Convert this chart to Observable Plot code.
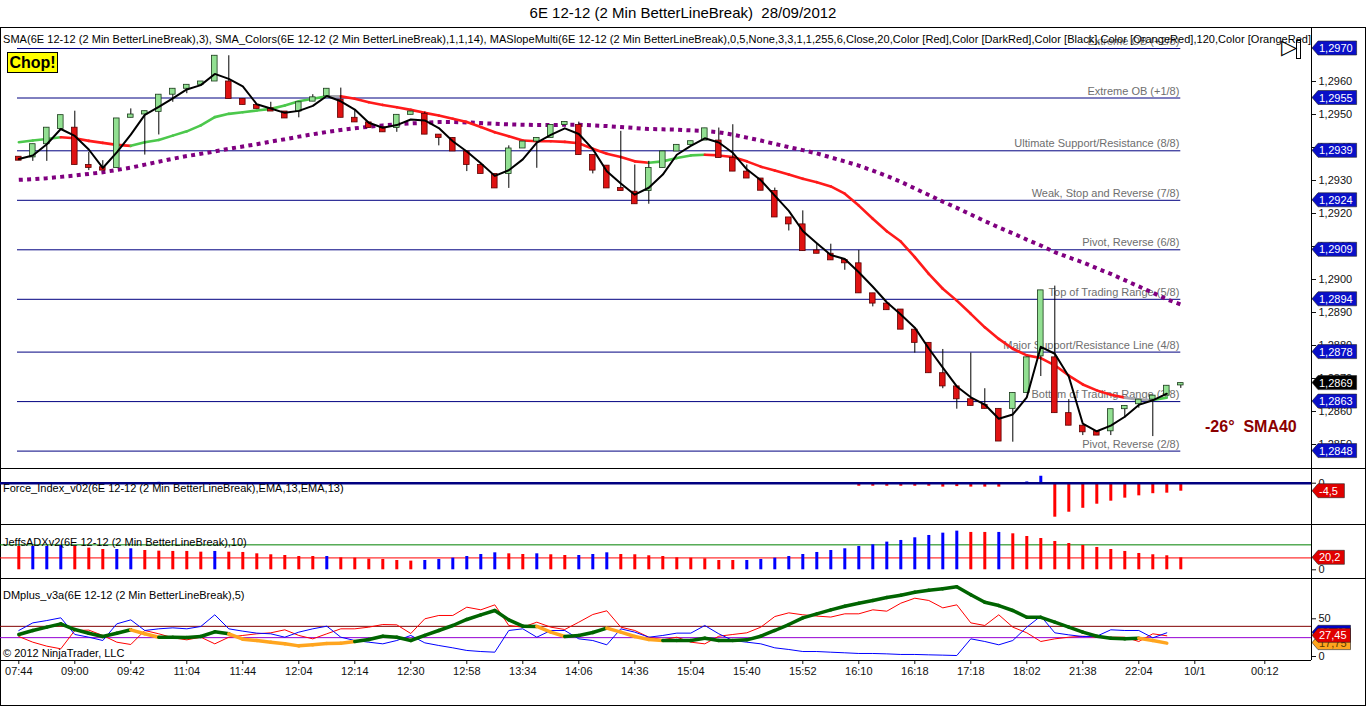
<!DOCTYPE html>
<html><head><meta charset="utf-8">
<script src="https://cdn.jsdelivr.net/npm/d3@7"></script>
<script src="https://cdn.jsdelivr.net/npm/@observablehq/plot@0.6"></script>
<style>
body{margin:0;background:#fff;font-family:"Liberation Sans",Arial,sans-serif;}
#page{position:relative;width:1366px;height:706px;overflow:hidden;background:#fff;}
.panel{position:absolute;left:0;width:1366px;}
.txt{position:absolute;font-size:11px;line-height:13px;white-space:pre;color:#000;z-index:6;}
.sep{position:absolute;left:0;width:1366px;height:1px;background:#000;z-index:5;}
</style></head><body><div id="page">
<div class="txt" style="top:4px;left:0;width:1366px;text-align:center;font-size:15px;line-height:18px;">6E 12-12 (2 Min BetterLineBreak)  28/09/2012</div>
<div style="position:absolute;top:27px;left:0;width:1366px;height:679px;border:1px solid #000;box-sizing:border-box;"></div>
<div class="panel" id="p-price" style="top:27px"></div>
<div class="panel" id="p-force" style="top:468px"></div>
<div class="panel" id="p-adx" style="top:524px"></div>
<div class="panel" id="p-dm" style="top:578px"></div>
<div class="sep" style="top:468px"></div>
<div class="sep" style="top:524px"></div>
<div class="sep" style="top:578px"></div>
<div class="txt" style="top:33px;left:3px;width:1308px;overflow:hidden;letter-spacing:0.04px;">SMA(6E 12-12 (2 Min BetterLineBreak),3), SMA_Colors(6E 12-12 (2 Min BetterLineBreak),1,1,14), MASlopeMulti(6E 12-12 (2 Min BetterLineBreak),0,5,None,3,3,1,1,255,6,Close,20,Color [Red],Color [DarkRed],Color [Black],Color [OrangeRed],120,Color [OrangeRed]</div>
<div class="txt" style="top:52px;left:7px;width:49px;height:19px;background:#ffff00;border:1px solid #000;font-weight:bold;font-size:16px;line-height:19px;text-align:center;">Chop!</div>
<div class="txt" style="top:417px;left:1205px;font-weight:bold;font-size:16px;line-height:20px;color:#8b0000;">-26°  SMA40</div>
<div class="txt" style="top:35px;left:1281px;font-size:21px;line-height:24px;font-family:'DejaVu Sans';">▷</div>
<div style="position:absolute;top:40px;left:1296px;width:3px;height:17px;border:1px solid #000;z-index:6;"></div>
<div class="txt" style="top:482px;left:3px;">Force_Index_v02(6E 12-12 (2 Min BetterLineBreak),EMA,13,EMA,13)</div>
<div class="txt" style="top:536px;left:3px;">JeffsADXv2(6E 12-12 (2 Min BetterLineBreak),10)</div>
<div class="txt" style="top:589px;left:3px;">DMplus_v3a(6E 12-12 (2 Min BetterLineBreak),5)</div>
<div class="txt" style="top:647px;left:3px;">© 2012 NinjaTrader, LLC</div>
</div>
<script>
// ---------- data ----------
const openP  = [1.29372,1.29370,1.29410,1.29456,1.29460,1.29347,1.29340,1.29338,1.29490,1.29500,
  1.29508,1.29560,1.29578,1.29590,1.29600,1.29600,1.29547,1.29529,1.29519,1.29509,
  1.29509,1.29539,1.29555,1.29545,1.29490,1.29476,1.29461,1.29459,1.29499,1.29502,
  1.29439,1.29429,1.29388,1.29347,1.29320,1.29320,1.29397,1.29418,1.29429,1.29468,
  1.29468,1.29377,1.29345,1.29277,1.29266,1.29268,1.29338,1.29388,1.29408,1.29421,
  1.29421,1.29368,1.29327,1.29306,1.29268,1.29188,1.29167,1.29088,1.29078,1.29059,
  1.29049,1.28958,1.28927,1.28909,1.28848,1.28808,1.28716,1.28676,1.28637,1.28620,
  1.28608,1.28608,1.28656,1.28767,1.28764,1.28595,1.28557,1.28540,1.28540,1.28607,
  1.28622,1.28636,1.28648,1.28679];
const highP  = [1.29372,1.29410,1.29460,1.29498,1.29510,1.29385,1.29360,1.29488,1.29517,1.29510,
  1.29560,1.29578,1.29590,1.29600,1.29678,1.29678,1.29547,1.29529,1.29537,1.29509,
  1.29537,1.29560,1.29578,1.29580,1.29514,1.29476,1.29461,1.29499,1.29509,1.29507,
  1.29439,1.29429,1.29388,1.29347,1.29320,1.29405,1.29418,1.29429,1.29468,1.29477,
  1.29477,1.29377,1.29345,1.29449,1.29347,1.29358,1.29388,1.29408,1.29419,1.29458,
  1.29459,1.29469,1.29347,1.29306,1.29277,1.29188,1.29208,1.29107,1.29107,1.29059,
  1.29088,1.28958,1.28927,1.28909,1.28848,1.28808,1.28788,1.28676,1.28777,1.28669,
  1.28608,1.28656,1.28764,1.28967,1.28980,1.28636,1.28557,1.28540,1.28607,1.28617,
  1.28636,1.28648,1.28678,1.28686];
const lowP   = [1.29360,1.29358,1.29358,1.29456,1.29347,1.29330,1.29330,1.29338,1.29490,1.29377,
  1.29438,1.29537,1.29563,1.29590,1.29600,1.29547,1.29529,1.29517,1.29509,1.29488,
  1.29490,1.29539,1.29555,1.29490,1.29476,1.29459,1.29446,1.29446,1.29499,1.29439,
  1.29405,1.29388,1.29327,1.29320,1.29276,1.29276,1.29397,1.29337,1.29429,1.29468,
  1.29377,1.29320,1.29276,1.29268,1.29228,1.29228,1.29338,1.29388,1.29408,1.29421,
  1.29368,1.29327,1.29306,1.29269,1.29188,1.29147,1.29086,1.29078,1.29058,1.29028,
  1.28958,1.28917,1.28907,1.28848,1.28777,1.28716,1.28669,1.28607,1.28617,1.28608,
  1.28509,1.28507,1.28656,1.28706,1.28595,1.28557,1.28527,1.28527,1.28527,1.28580,
  1.28610,1.28524,1.28648,1.28670];
const closeP = [1.29360,1.29410,1.29460,1.29498,1.29347,1.29338,1.29330,1.29488,1.29500,1.29510,
  1.29560,1.29578,1.29590,1.29600,1.29678,1.29547,1.29529,1.29517,1.29509,1.29488,
  1.29537,1.29552,1.29578,1.29490,1.29476,1.29459,1.29446,1.29499,1.29509,1.29439,
  1.29429,1.29388,1.29347,1.29320,1.29276,1.29397,1.29418,1.29429,1.29468,1.29477,
  1.29377,1.29330,1.29276,1.29268,1.29228,1.29338,1.29388,1.29408,1.29419,1.29458,
  1.29368,1.29327,1.29306,1.29269,1.29188,1.29167,1.29086,1.29078,1.29058,1.29049,
  1.28958,1.28927,1.28907,1.28848,1.28808,1.28716,1.28676,1.28637,1.28617,1.28608,
  1.28509,1.28656,1.28764,1.28967,1.28595,1.28557,1.28537,1.28527,1.28607,1.28617,
  1.28636,1.28648,1.28678,1.28686];
const sma3 = [1.29365,1.29376,1.29410,1.29456,1.29435,1.29394,1.29338,1.29385,1.29439,1.29499,
  1.29523,1.29549,1.29576,1.29589,1.29623,1.29608,1.29585,1.29531,1.29518,1.29505,
  1.29511,1.29526,1.29556,1.29540,1.29515,1.29475,1.29460,1.29468,1.29485,1.29482,
  1.29459,1.29419,1.29388,1.29352,1.29314,1.29331,1.29364,1.29415,1.29438,1.29458,
  1.29441,1.29395,1.29328,1.29291,1.29257,1.29278,1.29318,1.29378,1.29405,1.29428,
  1.29415,1.29384,1.29334,1.29301,1.29254,1.29208,1.29147,1.29110,1.29074,1.29062,
  1.29022,1.28978,1.28931,1.28894,1.28854,1.28791,1.28733,1.28676,1.28643,1.28621,
  1.28578,1.28591,1.28643,1.28796,1.28775,1.28706,1.28563,1.28540,1.28557,1.28584,
  1.28620,1.28634,1.28654];
const smaColors = [1.29416,1.29421,1.29426,1.29431,1.29428,1.29420,1.29414,1.29408,1.29405,1.29416,
  1.29423,1.29436,1.29449,1.29467,1.29492,1.29502,1.29507,1.29512,1.29517,1.29527,
  1.29540,1.29548,1.29555,1.29555,1.29548,1.29537,1.29529,1.29522,1.29514,1.29505,
  1.29497,1.29487,1.29477,1.29462,1.29446,1.29434,1.29421,1.29419,1.29419,1.29417,
  1.29413,1.29396,1.29381,1.29371,1.29358,1.29354,1.29358,1.29368,1.29376,1.29378,
  1.29376,1.29371,1.29358,1.29342,1.29330,1.29318,1.29305,1.29295,1.29282,1.29260,
  1.29224,1.29184,1.29146,1.29115,1.29068,1.29017,1.28972,1.28936,1.28896,1.28855,
  1.28820,1.28790,1.28770,1.28762,1.28740,1.28709,1.28682,1.28664,1.28651,1.28642,
  1.28636,1.28635,1.28642];
const smaTrend = ("gggg" + "rrrrr" + "gggggggggggggg" + "n" + "rrrrrrrrrrrrrrrrrrrrrr" + "gggg" +
  "rrrrrrrrrrrrrrrrrrrrrrrrrrrrrr" + "nn" + "g").split("");
const sma40 = [1.29302,1.29304,1.29307,1.29311,1.29315,1.29320,1.29325,1.29332,1.29339,1.29348,
  1.29357,1.29366,1.29374,1.29381,1.29388,1.29396,1.29403,1.29410,1.29418,1.29425,
  1.29433,1.29440,1.29447,1.29453,1.29458,1.29463,1.29467,1.29470,1.29473,1.29475,
  1.29477,1.29477,1.29476,1.29474,1.29472,1.29470,1.29469,1.29468,1.29468,1.29469,
  1.29469,1.29467,1.29465,1.29462,1.29459,1.29456,1.29455,1.29454,1.29452,1.29450,
  1.29446,1.29439,1.29430,1.29421,1.29411,1.29401,1.29392,1.29382,1.29370,1.29358,
  1.29345,1.29330,1.29314,1.29296,1.29276,1.29256,1.29236,1.29217,1.29197,1.29177,
  1.29158,1.29140,1.29121,1.29103,1.29083,1.29067,1.29052,1.29034,1.29017,1.28998,
  1.28979,1.28960,1.28940,1.28924];
const murreyLevels = [1.2970,1.2955,1.2939,1.2924,1.2909,1.2894,1.2878,1.2863,1.2848];
const murreyLabels = ["Extreme OB (+2/8)","Extreme OB (+1/8)","Ultimate Support/Resistance (8/8)",
  "Weak, Stop and Reverse (7/8)","Pivot, Reverse (6/8)","Top of Trading Range (5/8)",
  "Major Support/Resistance Line (4/8)","Bottom of Trading Range (3/8)","Pivot, Reverse (2/8)"];
const priceTicks = [1.2850,1.2860,1.2870,1.2880,1.2890,1.2900,1.2910,1.2920,1.2930,1.2940,1.2950,1.2960];

const forceIndex = [0,0,0,0,0,0,0,0,0,0, 0.5, 0,0,0,0,0,0,0,0,0, 0,0,0,0,0,0,0,0,0,
  -0.3,-0.3,-0.3,-0.3,-0.3,-0.3, 0,0,0,0,0,0,0,0,0, -0.3, 0,0,0,0,0,0,
  -0.7,-0.7,-0.7,-0.7,-0.7,-0.7,-0.7,-0.7,-0.7, -1.7,-1.7,-1.7,-1.7,-1.7,-1.7,
  -2.2,-1.9,-2.2,-2.2,-2.2, 0, 0.7, 3.9,
  -19.1,-16.3,-14.1,-11.8,-10.1,-8.4,-7.1,-5.9,-5.6,-4.5];

const adx = [39.3,39.3,39.3,41,39.3,36.5,34.2,34.2,35.4,32.5, 31.4,30.9,30.9,29.7,30.9,29.7,29.2,26.9,25.3,24.1,
  22.4,22.4,22.4,20.2,19.6,18,17.4,15.7,14.6,15.7, 17.4,19.6,22.4,25.8,28.6,26.9,25.8,26.9,25.3,24.1,
  24.1,25.8,28.6,25.8,25.3,23.6,22.4,20.2,19.6,18.5, 15.7,15.7,15.7,17.4,19.6,22.4,25.8,29.2,32.5,35.4,
  39.3,42.1,46.6,49.4,53.9,57.8,61.7,65.1,62.9,62.9, 62.9,60.6,56.1,52.7,47.7,44.3,41,37.6,34.2,30.9,
  27.5,25.3,23.6,20.2];
const adxDir = ("rbbb" + "rrr" + "bb" + "rrrrr" + "b" + "rrrrrrr" + "b" + "rrrrrr" + "bbbbbb" + "rr" + "b" + "rr" +
  "bbb" + "rrrrrrrrr" + "bbbbbbbbbbbbbbbb" + "rr" + "b" + "rrrrrrrrrrrrr").split("");
const adxLevels = [42, 20];

const dmThick = [29.2,34.5,38.9,43.3,35.8,30.9,26.5,30.9,35.4,30.1, 25.6,25.6,25.2,26.5,32.7,30.1,23,21.2,19,16.8,
  14.1,15.5,17.2,17.7,19.9,22.5,26.9,25.6,21.2,27.9, 34.5,41.1,49.1,55.3,61,48.6,40.2,39.8,32.3,26.5,
  27.9,31.8,37.6,32.3,26.5,22.5,21.2,21.2,21.2,24.3, 21.2,21.2,22.1,26.9,34.5,42.4,51.3,56.6,61.9,66.7,
  70.7,74.3,78.2,81.3,85.3,88,89.8,92.4,81.8,72, 67.6,61,52.1,52,45.5,38.9,32.3,26.9,24.3,23.4,
  24.3,21.2,17.75];
const dmThickState = ("ggggggggg" + "oo" + "ggggg" + "ooooooooo" + "ggggggggggggg" + "oo" + "ggg" + "oooo" +
  "gggggggggggggggggggggggggggggggggg" + "oo").split("");
const dmRed = [26.5,19,13.7,10.2,34.5,35,27.9,19,15.9,34.5, 30.1,24.8,22.1,25.6,16.8,25.6,27.9,30.1,31.4,35.4,
  27.9,23.4,30.1,36.7,36.7,38.9,42.4,42,30.5,50, 54.4,54.4,65.4,61.9,68.5,41.1,38.9,45.5,38.9,35.8,
  45.5,55.7,60.6,38.9,34.5,25.6,22.1,25.6,19,16.8, 26.9,29.2,31.4,38.9,53,57.9,55.3,53.6,52.3,56.6,
  56.6,61.9,60.1,70.7,77.3,74.3,64.5,68.5,44.6,41.1, 55.3,38.9,31.4,19.9,23.4,25.6,26.9,25.6,25.6,25.6,
  19.9,30.1,27.45];
const dmBlue = [34.5,44.6,47.7,51.3,29.2,25.6,21.2,43.3,48.6,34.5, 36.7,38,36.7,39.8,55.3,36.7,33.6,31,30.1,25.6,
  32.3,36.7,40.2,25.6,21.2,19,16.8,21.2,27.9,18.1, 14.6,11.5,8,6.6,5.7,34.5,36.7,25.6,34.5,34.5,
  23.4,21.2,15.5,36.7,32.3,25.6,27.9,31,31,41.1, 30.1,21.2,19,16.8,11.5,9.3,6.6,6.6,5.7,4.9,
  4,4,3.5,2.7,2.7,2.2,1.8,1.3,23.4,19.9, 15.5,21.2,38.9,53.6,31.4,28.7,26.5,26.9,35.4,34.5,
  34.5,24.8,31.4];
const dmLevels = [40, 25];

const xTickBars = [0,4,8,12,16,20,24,28,32,36,40,44,48,52,56,60,64,68,72,76,80,84,89];
const xTickLabels = ["07:44","09:00","09:42","11:04","11:44","12:04","12:14","12:30","12:58","13:34","14:06",
  "14:36","15:04","15:40","15:52","16:10","16:18","17:18","18:02","21:38","22:04","10/1","00:12"];

// ---------- layout ----------
const W = 1366, AXIS_X = 1311, BAR_PX = 14, X0_PX = 18.3;
const xDomain = [-X0_PX / BAR_PX, (AXIS_X - X0_PX) / BAR_PX];
const pxX = px => xDomain[0] + px / BAR_PX;
const comma = (v, d) => v.toFixed(d).replace(".", ",");
const FONT = "'Liberation Sans', Arial, sans-serif";

function tag(v, label, fill, textFill, ypp) {
  const w = 8 + label.length * 6.1, h = 7 * ypp;
  const pts = [{x: pxX(1312), lo: v, hi: v}, {x: pxX(1318), lo: v - h, hi: v + h}, {x: pxX(1312 + w), lo: v - h, hi: v + h}];
  return [
    Plot.area(pts, {x1: "x", y1: "lo", y2: "hi", fill, stroke: "#222", strokeWidth: 0.6}),
    Plot.text([{v, label}], {x: pxX(1318.5), y: "v", text: "label", textAnchor: "start", fill: textFill, fontSize: 11})
  ];
}

function panel(id, h, mb, yDomain, yOpts, xOpts, marks) {
  const svg = Plot.plot({
    width: W, height: h, marginLeft: 0, marginRight: W - AXIS_X, marginTop: 0, marginBottom: mb,
    style: {background: "transparent", fontSize: "11px", fontFamily: FONT, color: "#111", overflow: "visible"},
    x: {domain: xDomain, ...xOpts},
    y: {domain: yDomain, label: null, tickSize: 4, tickPadding: 3, ...yOpts},
    marks: [...marks, Plot.ruleX([xDomain[1]], {stroke: "#000"})]
  });
  document.getElementById(id).appendChild(svg);
}

// ---------- price panel ----------
const PH = 441;
const priceDomain = [1.2960 - 387 / 33000, 1.2960 + 54 / 33000];
const pYpp = (priceDomain[1] - priceDomain[0]) / PH;
const candles = openP.map((o, i) => ({i, o, h: highP[i], l: lowP[i], c: closeP[i]}));
const sma3Data = sma3.map((v, i) => ({i, v}));
const sma40Data = sma40.map((v, i) => ({i, v}));
const smaSeg = d3.range(1, smaColors.length).map(i => ({x1: i - 1, y1: smaColors[i - 1], x2: i, y2: smaColors[i], s: smaTrend[i]}));
const trendColor = {g: "#4cc84c", r: "#ff1a1a", n: "#a8a8b0"};
const murrey = murreyLevels.map((v, k) => ({v, label: murreyLabels[k]}));

panel("p-price", PH, 0, priceDomain,
  {axis: "right", ticks: priceTicks, tickFormat: v => comma(v, 4)}, {axis: null}, [
  Plot.ruleY(murrey, {y: "v", x1: pxX(17), x2: 83, stroke: "#000080", strokeWidth: 1}),
  Plot.text(murrey, {x: 82.9, y: "v", text: "label", textAnchor: "end", dy: -7, fill: "#6e6e6e", fontSize: 11}),
  Plot.line(sma40Data, {x: "i", y: "v", stroke: "#800080", strokeWidth: 4, strokeDasharray: "4,4.3", strokeLinecap: "butt", strokeLinejoin: "miter"}),
  Plot.link(smaSeg, {x1: "x1", y1: "y1", x2: "x2", y2: "y2", stroke: d => trendColor[d.s], strokeWidth: 2.6, strokeLinecap: "round"}),
  Plot.ruleX(candles, {x: "i", y1: "l", y2: "h", stroke: "#000", strokeWidth: 1}),
  Plot.rect(candles, {x1: d => d.i - 0.2, x2: d => d.i + 0.2, y1: "o", y2: "c",
    fill: d => d.c >= d.o ? "#92e092" : "#e01212", stroke: d => d.c >= d.o ? "#1a3a1a" : "#5a0000", strokeWidth: 0.8}),
  Plot.line(sma3Data, {x: "i", y: "v", stroke: "#000", strokeWidth: 2}),
  ...murrey.flatMap(m => tag(m.v, comma(m.v, 4), "#0a10c8", "#fff", pYpp)),
  ...tag(closeP[closeP.length - 1], comma(closeP[closeP.length - 1], 4), "#000", "#fff", pYpp)
]);

// ---------- force index panel ----------
const FH = 56, fZero = 14.7, fPx = 1.78;
const forceDomain = [-(FH - fZero) / fPx, fZero / fPx];
const fYpp = (forceDomain[1] - forceDomain[0]) / FH;
const forceData = forceIndex.map((v, i) => ({i, v})).filter(d => d.v !== 0);
panel("p-force", FH, 0, forceDomain, {axis: "right", ticks: [0], tickFormat: d => "0"}, {axis: null}, [
  Plot.ruleX(forceData, {x: "i", y1: 0, y2: "v", stroke: d => d.v > 0 ? "#0000ff" : "#ff0000", strokeWidth: 3}),
  Plot.ruleY([0], {stroke: "#000080", strokeWidth: 2.5}),
  ...tag(forceIndex[forceIndex.length - 1], comma(forceIndex[forceIndex.length - 1], 1), "#e00000", "#fff", fYpp)
]);

// ---------- ADX panel ----------
const AH = 54, aZero = 45.3, aPx = 0.594;
const adxDomain = [-(AH - aZero) / aPx, aZero / aPx];
const aYpp = (adxDomain[1] - adxDomain[0]) / AH;
const adxData = adx.map((v, i) => ({i, v, d: adxDir[i]}));
panel("p-adx", AH, 0, adxDomain, {axis: "right", ticks: [0], tickFormat: d => "0"}, {axis: null}, [
  Plot.ruleY([adxLevels[0]], {stroke: "#008000", strokeWidth: 1}),
  Plot.ruleY([adxLevels[1]], {stroke: "#ff0000", strokeWidth: 1}),
  Plot.ruleX(adxData, {x: "i", y1: 0, y2: "v", stroke: d => d.d === "b" ? "#0000ff" : "#ff0000", strokeWidth: 3}),
  ...tag(adx[adx.length - 1], comma(adx[adx.length - 1], 1), "#e00000", "#fff", aYpp)
]);

// ---------- DM panel + time axis ----------
const DH = 128, DMB = 46, dZero = 78, dPx = 0.754;
const dmDomain = [-(DH - DMB - dZero) / dPx, dZero / dPx];
const dYpp = (dmDomain[1] - dmDomain[0]) / (DH - DMB);
const redData = dmRed.map((v, i) => ({i, v}));
const blueData = dmBlue.map((v, i) => ({i, v}));
const thickSeg = d3.range(1, dmThick.length).map(i => ({x1: i - 1, y1: dmThick[i - 1], x2: i, y2: dmThick[i], s: dmThickState[i]}));
const thickColor = {g: "#006400", o: "#ffa51f"};
const nDM = dmThick.length - 1;
panel("p-dm", DH, DMB, dmDomain, {axis: "right", ticks: [0, 50], tickFormat: d => String(d)},
  {axis: "bottom", ticks: xTickBars, tickFormat: d => xTickLabels[xTickBars.indexOf(d)], tickSize: 4, tickPadding: 3, label: null}, [
  Plot.ruleY([dmLevels[0]], {stroke: "#800000", strokeWidth: 1}),
  Plot.ruleY([dmLevels[1]], {stroke: "#9400d3", strokeWidth: 1}),
  Plot.line(redData, {x: "i", y: "v", stroke: "#ff0000", strokeWidth: 1}),
  Plot.line(blueData, {x: "i", y: "v", stroke: "#0000ff", strokeWidth: 1}),
  Plot.link(thickSeg, {x1: "x1", y1: "y1", x2: "x2", y2: "y2", stroke: d => thickColor[d.s], strokeWidth: 3.5, strokeLinecap: "round"}),
  Plot.ruleY([dmDomain[0]], {stroke: "#000", strokeWidth: 1}),
  ...tag(dmBlue[nDM], comma(dmBlue[nDM], 2), "#0000cd", "#fff", dYpp),
  ...tag(dmThick[nDM], comma(dmThick[nDM], 2), "#ffa51f", "#5a3a00", dYpp),
  ...tag(dmRed[nDM], comma(dmRed[nDM], 2), "#e00000", "#fff", dYpp)
]);
</script>
</body></html>
